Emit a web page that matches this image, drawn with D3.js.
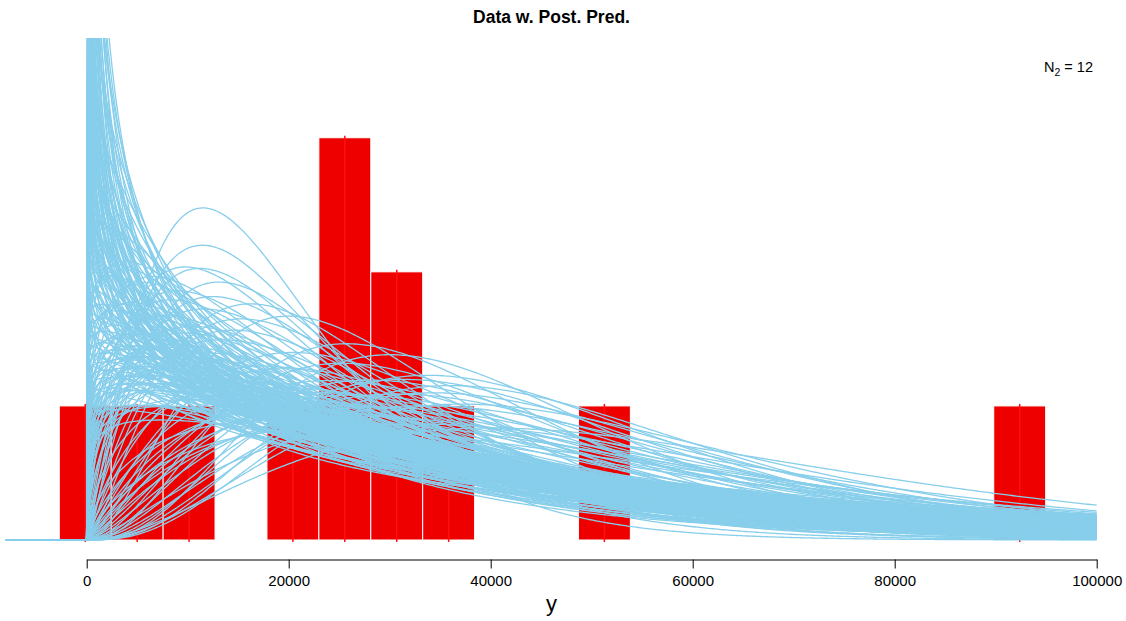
<!DOCTYPE html>
<html>
<head>
<meta charset="utf-8">
<script src="https://cdnjs.cloudflare.com/ajax/libs/d3/7.8.5/d3.min.js"></script>
<style>
  body { margin: 0; background: #fff; }
  svg { display: block; }
  text { font-family: "Liberation Sans", Arial, sans-serif; }
</style>
</head>
<body>
<svg id="chart" width="1126" height="621"></svg>
<script>
// Data: 12 observations, histogram bins of equal width
const N2 = 12;
const binWidth = 5140;
const binLeft = [-2713, 2427, 7567, 17847, 22987, 28127, 33267, 48687, 89807];
const binCount = [1, 1, 1, 1, 3, 2, 1, 1, 1];
const xTicks = [0, 20000, 40000, 60000, 80000, 100000];
const xGridRange = [-8000, 100000];

// Posterior predictive gamma curves: one shape per row, with the means drawn for it
const curveShapes = [0.5, 0.55, 0.6, 0.65, 0.7, 0.75, 0.8, 0.85, 0.9, 0.95,
  1.0, 1.05, 1.1, 1.15, 1.2, 1.3, 1.4, 1.5, 1.6, 1.8, 2.0, 2.2, 2.5, 3.0, 3.5, 4.0];
const curveMeans = [
  [24000, 32000, 42000],
  [20000, 26000, 33000, 44000],
  [17000, 22000, 27000, 33000, 40000, 50000],
  [18000, 23000, 28000, 34000, 41000, 52000],
  [19000, 23000, 27000, 29000, 31000, 33000, 35000, 37000, 40000, 46000, 56000],
  [18000, 22000, 26000, 28000, 30000, 32000, 34000, 36000, 38000, 43000, 50000, 60000],
  [20000, 24000, 28000, 30000, 32000, 34000, 36000, 38000, 40000, 42000, 45000, 52000],
  [19000, 23000, 27000, 29000, 31000, 33000, 35000, 37000, 39000, 41000, 44000, 50000, 58000],
  [21000, 25000, 29000, 31000, 33000, 35000, 37000, 39000, 41000, 43000, 46000, 53000],
  [20000, 24000, 28000, 30000, 32000, 34000, 36000, 38000, 40000, 42000, 45000, 52000],
  [22000, 26000, 30000, 32000, 34000, 36000, 38000, 40000, 42000, 44000, 47000, 54000],
  [23000, 27000, 31000, 33000, 35000, 37000, 39000, 41000, 43000, 45000, 48000, 56000],
  [22000, 26000, 30000, 32000, 34000, 36000, 38000, 40000, 42000, 44000, 46000, 51000],
  [24000, 28000, 32000, 34000, 36000, 38000, 40000, 42000, 44000, 49000, 55000],
  [23000, 27000, 31000, 33000, 35000, 37000, 39000, 41000, 43000, 48000],
  [24000, 28000, 32000, 34000, 36000, 38000, 40000, 44000],
  [23000, 27000, 31000, 33000, 35000, 38000],
  [25000, 29000, 33000, 37000],
  [24000, 28000, 32000, 40000, 50000],
  [22000, 26000, 30000, 38000, 46000, 54000],
  [22400, 25000, 29000, 35000, 40000, 44000, 48000, 52000],
  [21000, 24000, 28000, 36000, 42000, 46000, 50000],
  [19200, 27000, 34000, 40000, 44000, 48000, 55000],
  [30000, 38000, 42000, 46000, 50000, 60000],
  [36000, 44000, 48000, 52000],
  [40000, 45000, 48000]
];

const svg = d3.select("#chart");

const xScale = d3.scaleLinear().domain([0, 100000]).range([86.7, 1096.7]);
const densityPerCount = 1 / (N2 * binWidth);
const yMax = 1.2 * d3.max(binCount) * densityPerCount;
const yScale = d3.scaleLinear().domain([0, yMax]).range([540, 57.3]);

// log of the gamma function (Lanczos)
function lnGamma(z) {
  const c = [0.99999999999980993, 676.5203681218851, -1259.1392167224028,
    771.32342877765313, -176.61502916214059, 12.507343278686905,
    -0.13857109526572012, 9.9843695780195716e-6, 1.5056327351493116e-7];
  if (z < 0.5) return Math.log(Math.PI / Math.sin(Math.PI * z)) - lnGamma(1 - z);
  z -= 1;
  let a = c[0];
  for (let i = 1; i < 9; i++) a += c[i] / (z + i);
  const t = z + 7.5;
  return 0.5 * Math.log(2 * Math.PI) + (z + 0.5) * Math.log(t) - t + Math.log(a);
}

function gammaDensity(x, shape, mean) {
  if (x <= 0) return 0;
  const scale = mean / shape;
  return Math.exp((shape - 1) * Math.log(x) - x / scale - lnGamma(shape) - shape * Math.log(scale));
}

const postPred = curveShapes.flatMap((k, i) => curveMeans[i].map((m) => [k, m]));

svg.append("clipPath").attr("id", "plotClip")
  .append("rect").attr("x", 0).attr("y", 38).attr("width", 1126).attr("height", 521);

// Histogram bars
const bars = svg.append("g").attr("class", "bars");
bars.selectAll("rect")
  .data(binLeft)
  .enter()
  .append("rect")
  .attr("x", (d) => xScale(d))
  .attr("width", (d) => xScale(d + binWidth) - xScale(d))
  .attr("y", (d, i) => yScale(binCount[i] * densityPerCount))
  .attr("height", (d, i) => yScale(0) - yScale(binCount[i] * densityPerCount))
  .attr("fill", "#EE0000")
  .attr("stroke", "#fff")
  .attr("stroke-width", 1);

// spikes at bin mids
bars.selectAll("line")
  .data(binLeft)
  .enter()
  .append("line")
  .attr("x1", (d) => xScale(d + binWidth / 2))
  .attr("x2", (d) => xScale(d + binWidth / 2))
  .attr("y1", yScale(0) + 2)
  .attr("y2", (d, i) => yScale(binCount[i] * densityPerCount) - 2)
  .attr("stroke", "#FF1010")
  .attr("stroke-width", 1.5);

// Posterior predictive curves
const xGrid = d3.range(501).map((i) => xGridRange[0] + i * (xGridRange[1] - xGridRange[0]) / 500);
const line = d3.line()
  .x((d) => xScale(d[0]))
  .y((d) => Math.max(-2000, yScale(d[1])));

svg.append("g")
  .attr("clip-path", "url(#plotClip)")
  .selectAll("path")
  .data(postPred)
  .enter()
  .append("path")
  .attr("d", (p) => line(xGrid.map((x) => [x, gammaDensity(x, p[0], p[1])])))
  .attr("fill", "none")
  .attr("stroke", "#87CEEB")
  .attr("stroke-width", 1.3);

// x axis
const xAxis = d3.axisBottom(xScale)
  .tickValues(xTicks)
  .tickFormat(d3.format("d"))
  .tickSize(9)
  .tickSizeOuter(0)
  .tickPadding(7);

const axisG = svg.append("g")
  .attr("transform", "translate(0, 559.5)")
  .call(xAxis);
axisG.select(".domain").attr("stroke", "#000");
axisG.selectAll(".tick line").attr("stroke", "#000");
axisG.selectAll(".tick text")
  .attr("font-size", "15px")
  .attr("fill", "#000")
  .style("font-family", "'Liberation Sans', Arial, sans-serif");

// labels
svg.append("text")
  .attr("x", 551.5)
  .attr("y", 23)
  .attr("text-anchor", "middle")
  .attr("font-size", "17.5px")
  .attr("font-weight", "bold")
  .text("Data w. Post. Pred.");

svg.append("text")
  .attr("x", 551.5)
  .attr("y", 611)
  .attr("text-anchor", "middle")
  .attr("font-size", "22px")
  .text("y");

const nLabel = svg.append("text")
  .attr("x", 1093)
  .attr("y", 72)
  .attr("text-anchor", "end")
  .attr("font-size", "14.5px");
nLabel.append("tspan").text("N");
nLabel.append("tspan").attr("dy", 4).attr("font-size", "10.5px").text("2");
nLabel.append("tspan").attr("dy", -4).text(" = " + N2);
</script>
</body>
</html>
